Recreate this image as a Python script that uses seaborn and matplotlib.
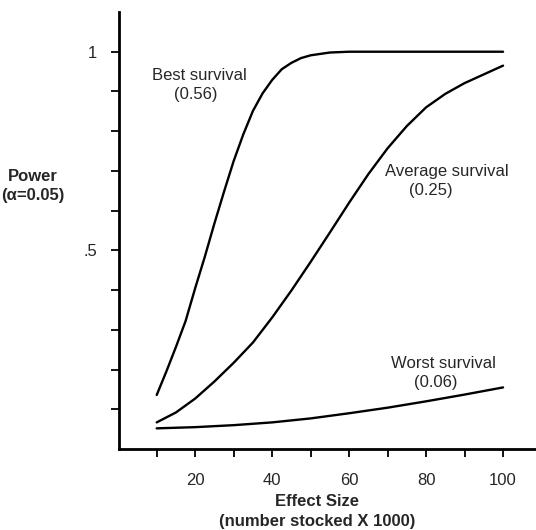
import matplotlib
matplotlib.use("Agg")
import matplotlib.pyplot as plt
import seaborn as sns
import pandas as pd

# Data
best_x = [10, 12.5, 15, 17.5, 20, 22.5, 25, 27.5, 30, 32.5, 35, 37.5, 40, 42.5,
          45, 47.5, 50, 55, 60, 70, 80, 90, 100]
best_y = [0.136, 0.195, 0.257, 0.322, 0.405, 0.484, 0.568, 0.648, 0.725, 0.792,
          0.851, 0.895, 0.929, 0.956, 0.972, 0.984, 0.991, 0.998, 1.0, 1.0, 1.0, 1.0, 1.0]

avg_x = [10, 15, 20, 25, 30, 35, 40, 45, 50, 55, 60, 65, 70, 75, 80, 85, 90, 95, 100]
avg_y = [0.067, 0.092, 0.127, 0.17, 0.217, 0.268, 0.331, 0.399, 0.471, 0.545,
         0.62, 0.692, 0.757, 0.813, 0.86, 0.894, 0.921, 0.943, 0.965]

worst_x = [10, 20, 30, 40, 50, 60, 70, 80, 90, 100]
worst_y = [0.052, 0.055, 0.06, 0.067, 0.077, 0.09, 0.104, 0.12, 0.137, 0.155]

label_names = ["Best survival", "Average survival", "Worst survival"]
label_rates = ["(0.56)", "(0.25)", "(0.06)"]

x_ticks = [10, 20, 30, 40, 50, 60, 70, 80, 90, 100]
x_ticklabels = ["", "20", "", "40", "", "60", "", "80", "", "100"]
y_ticks = [0.1, 0.2, 0.3, 0.4, 0.5, 0.6, 0.7, 0.8, 0.9, 1.0]
y_ticklabels = ["", "", "", "", ".5", "", "", "", "", "1"]

sns.set_style("ticks")
plt.rcParams['font.family'] = ['Liberation Sans', 'DejaVu Sans']

df = pd.concat([
    pd.DataFrame({"x": best_x, "y": best_y, "s": "best"}),
    pd.DataFrame({"x": avg_x, "y": avg_y, "s": "avg"}),
    pd.DataFrame({"x": worst_x, "y": worst_y, "s": "worst"}),
])

fig = plt.figure(figsize=(5.36, 5.30), dpi=100)
ax = fig.add_axes([119/536, 81/530, 416/536, 437/530])
sns.lineplot(data=df, x="x", y="y", hue="s", palette=["black"]*3,
             legend=False, ax=ax, linewidth=1.7, sort=False)
for ln in ax.get_lines():
    ln.set_solid_joinstyle("round")

ax.set_xlim(0.2, 108.3)
ax.set_ylim(0, 1.1)
ax.set_xticks(x_ticks)
ax.set_xticklabels(x_ticklabels, fontsize=12)
ax.set_yticks(y_ticks)
ax.set_yticklabels(y_ticklabels, fontsize=12)
ax.tick_params(axis="both", direction="out", length=6, width=1.3, color="black")
ax.tick_params(axis="x", pad=11)
ax.tick_params(axis="y", pad=10)
ax.set_xlabel("")
ax.set_ylabel("")
for side in ["top", "right"]:
    ax.spines[side].set_visible(False)
for side in ["left", "bottom"]:
    ax.spines[side].set_linewidth(2)
    ax.spines[side].set_color("black")

name_pos = [(21.0, 0.940), (85.5, 0.698), (84.6, 0.216)]
rate_pos = [(20.1, 0.892), (81.3, 0.650), (82.6, 0.168)]
for name, rate, (nx, ny), (rx, ry) in zip(label_names, label_rates, name_pos, rate_pos):
    ax.text(nx, ny, name, ha="center", va="center", fontsize=12)
    ax.text(rx, ry, rate, ha="center", va="center", fontsize=12)

fig.text(33/536, 1 - 186/530, "Power\n(α=0.05)", ha="center", va="center",
         fontsize=12, fontweight="bold", linespacing=1.4)
fig.text(317/536, 1 - 511.7/530, "Effect Size\n(number stocked X 1000)", ha="center", va="center",
         fontsize=12, fontweight="bold", linespacing=1.4)

fig.savefig("out.png", dpi=100)
